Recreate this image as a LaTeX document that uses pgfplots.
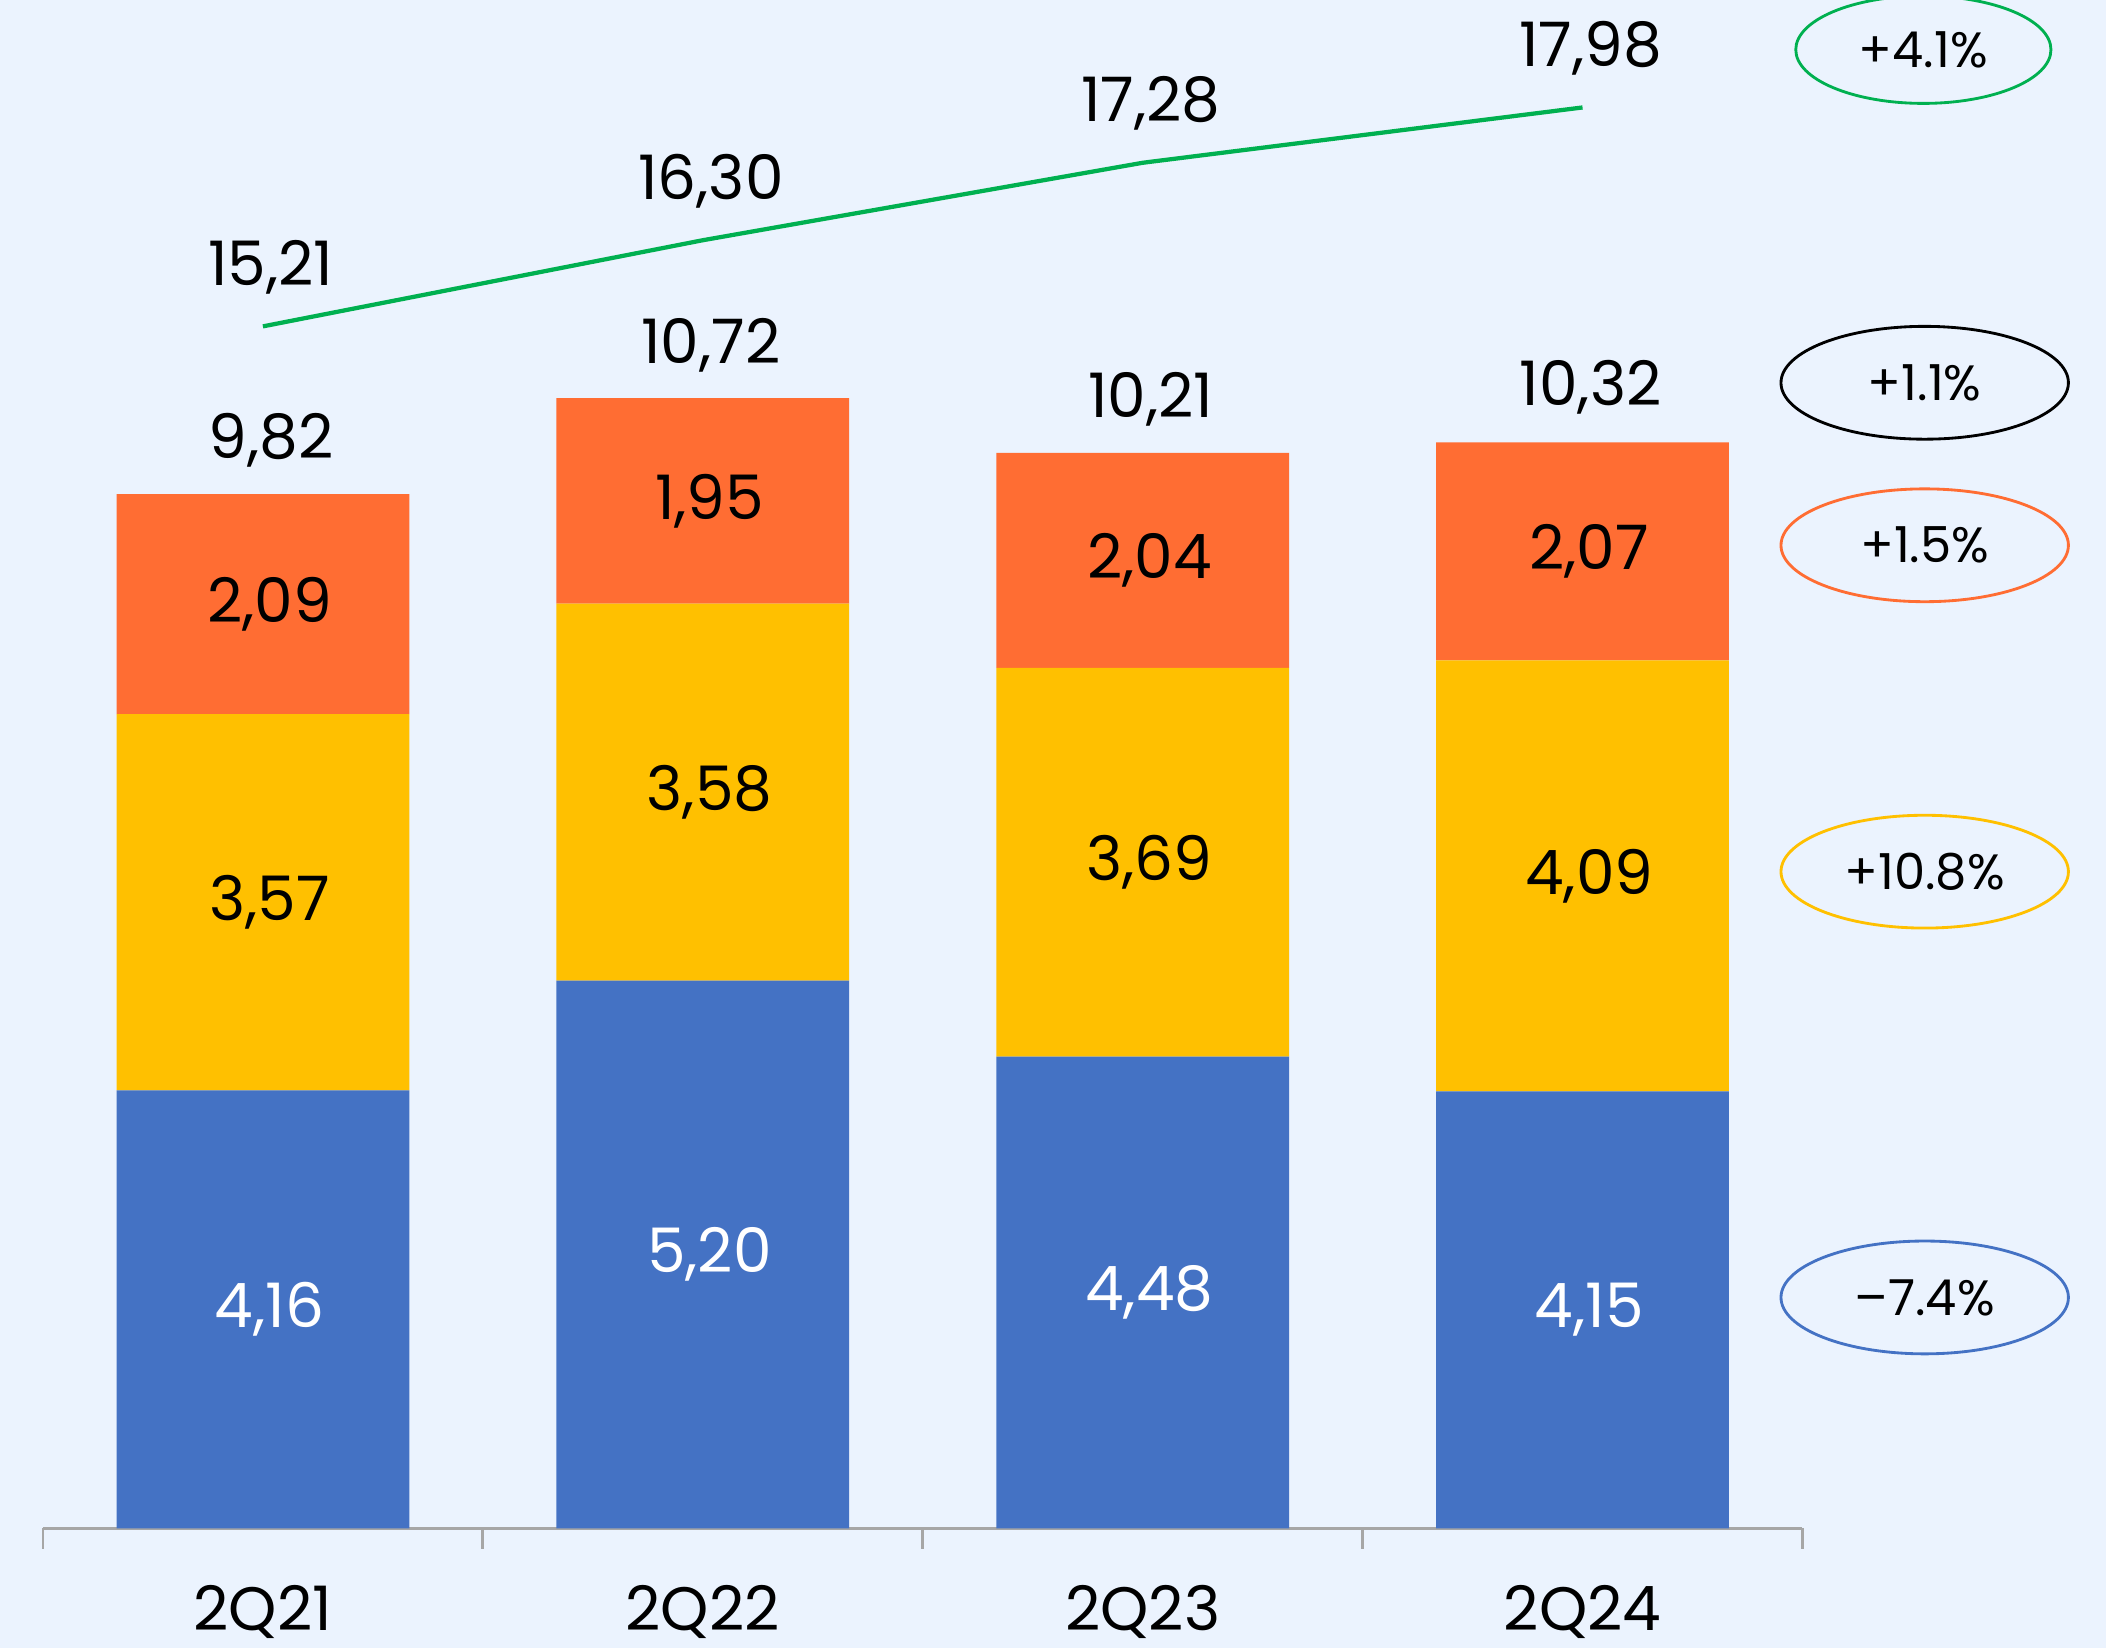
\documentclass[border=0pt]{standalone}
\usepackage{pgfplots}
\pgfplotsset{compat=1.18}
\usepackage{pgfplotstable}
\usetikzlibrary{shapes.geometric}
\usepackage{fontspec}
\setmainfont{Poppins}
\definecolor{bg}{HTML}{EBF3FE}
\definecolor{cblue}{HTML}{4472C4}
\definecolor{cyel}{HTML}{FFC000}
\definecolor{corg}{HTML}{FF6D33}
\definecolor{cgrn}{HTML}{00B050}
\definecolor{cgray}{HTML}{A6A6A6}

\pgfplotstableread{
x v lab
0 4.16 4,16
1 5.20 5,20
2 4.48 4,48
3 4.15 4,15
}\blueT
\pgfplotstableread{
x v lab
0 3.57 3,57
1 3.58 3,58
2 3.69 3,69
3 4.09 4,09
}\yelT
\pgfplotstableread{
x v lab
0 2.09 2,09
1 1.95 1,95
2 2.04 2,04
3 2.07 2,07
}\orgT
\pgfplotstableread{
x v lab
0 9.82 9,82
1 10.72 10,72
2 10.21 10,21
3 10.32 10,32
}\totT
\pgfplotstableread{
x v lab
0 15.21 15,21
1 16.30 16,30
2 17.28 17,28
3 17.98 17,98
}\lineT

\newcommand{\numfont}{\fontsize{13}{15}\selectfont}
\newcommand{\pctfont}{\fontsize{10.5}{12}\selectfont}

\begin{document}
\begin{tikzpicture}
\path[use as bounding box, fill=bg] (0,0) rectangle (15.68cm,12.27cm);
\begin{axis}[
  at={(0.32cm,0.89cm)}, anchor=south west, scale only axis,
  width=13.10cm, height=11.38cm,
  xmin=-0.5, xmax=3.5, ymin=0, ymax=14.51,
  ybar stacked, bar width=2.18cm,
  axis x line*=bottom, axis y line=none,
  x axis line style={cgray, line width=0.6pt},
  xtick={0,1,2,3}, xticklabels={2Q21,2Q22,2Q23,2Q24},
  minor xtick={-0.5,0.5,1.5,2.5,3.5},
  major tick length=0pt, minor tick length=0.15cm,
  tick align=outside,
  minor tick style={cgray, line width=0.6pt},
  xticklabel style={anchor=base, yshift=-0.76cm, font=\numfont, text=black},
  clip=false,
  point meta=explicit symbolic,
  nodes near coords,
  every node near coord/.append style={anchor=center, xshift=0.05cm, font=\numfont},
]
\addplot[fill=cblue, draw=none, every node near coord/.append style={text=white}] table[x=x, y=v, meta=lab] {\blueT};
\addplot[fill=cyel, draw=none, every node near coord/.append style={text=black}] table[x=x, y=v, meta=lab] {\yelT};
\addplot[fill=corg, draw=none, every node near coord/.append style={text=black}] table[x=x, y=v, meta=lab] {\orgT};
\end{axis}
\begin{axis}[
  at={(0.32cm,0.89cm)}, anchor=south west, scale only axis,
  width=13.10cm, height=11.38cm,
  xmin=-0.5, xmax=3.5, ymin=0, ymax=14.51,
  hide axis, clip=false,
]
\addplot[draw=none, mark=none, nodes near coords, point meta=explicit symbolic,
  every node near coord/.append style={anchor=center, yshift=0.40cm, xshift=0.06cm, text=black, font=\numfont}]
  table[x=x, y=v, meta=lab] {\totT};
\end{axis}
\begin{axis}[
  at={(0.32cm,0.89cm)}, anchor=south west, scale only axis,
  width=13.10cm, height=11.38cm,
  xmin=-0.5, xmax=3.5, ymin=0, ymax=19.34,
  hide axis, clip=false,
]
\addplot[cgrn, line width=0.9pt, mark=none, nodes near coords, point meta=explicit symbolic,
  every node near coord/.append style={anchor=center, yshift=0.44cm, xshift=0.06cm, text=black, font=\numfont}]
  table[x=x, y=v, meta=lab] {\lineT};
\end{axis}
\node[ellipse, draw=cgrn, line width=0.6pt, minimum width=1.90cm, minimum height=0.80cm, inner sep=0pt, font=\pctfont] at (14.32cm,11.90cm) {+4.1\%};
\node[ellipse, draw=black, line width=0.6pt, minimum width=2.14cm, minimum height=0.84cm, inner sep=0pt, font=\pctfont] at (14.33cm,9.42cm) {+1.1\%};
\node[ellipse, draw=corg, line width=0.6pt, minimum width=2.14cm, minimum height=0.84cm, inner sep=0pt, font=\pctfont] at (14.33cm,8.21cm) {+1.5\%};
\node[ellipse, draw=cyel, line width=0.6pt, minimum width=2.14cm, minimum height=0.84cm, inner sep=0pt, font=\pctfont] at (14.33cm,5.78cm) {+10.8\%};
\node[ellipse, draw=cblue, line width=0.6pt, minimum width=2.14cm, minimum height=0.84cm, inner sep=0pt, font=\pctfont] at (14.33cm,2.61cm) {–7.4\%};
\end{tikzpicture}
\end{document}
